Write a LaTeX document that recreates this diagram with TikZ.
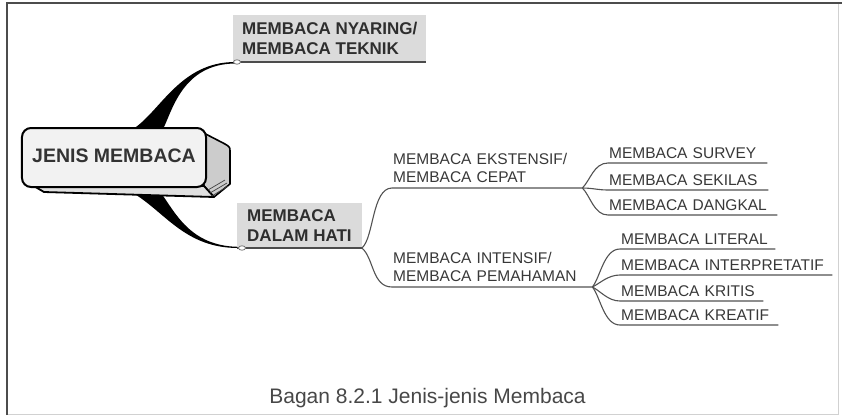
\documentclass[tikz,border=0pt]{standalone}
\usepackage{fontspec}
\setmainfont{Liberation Sans}
\begin{document}
\begin{tikzpicture}[x=1bp,y=-1bp,
  rootbox/.style={draw=black, line width=2bp, fill=black!5, rounded corners=9bp,
    minimum width=184bp, minimum height=59bp, inner sep=0pt,
    text height=14bp, text depth=5bp, text=black!80,
    font=\fontsize{19.5bp}{22bp}\selectfont\bfseries},
  topic/.style={anchor=south west, fill=black!14, align=left, text=black!82,
    inner xsep=9bp, inner ysep=7bp, text depth=0pt,
    font=\fontsize{17bp}{20.5bp}\selectfont\bfseries},
  sub/.style={anchor=south west, align=left, text=black!78,
    inner xsep=1bp, inner ysep=5.5bp,
    font=\fontsize{15.5bp}{18bp}\selectfont},
  leaf/.style={sub, inner ysep=4bp, text depth=0pt, text width=#1},
  stem/.style={draw=black!70, line width=1.5bp},
  link/.style={draw=black!68, line width=1.1bp},
  knob/.style={draw=black!55, fill=white, line width=0.8bp},
  caption/.style={anchor=base, text=black!72, font=\fontsize{21bp}{24bp}\selectfont}
]
\useasboundingbox (0,0) rectangle (842,415);

% frame
\draw[black!18, line width=1bp] (838.5,3) -- (838.5,414) -- (7,414);
\draw[black!70, line width=1.8bp] (7,415) -- (7,3) -- (842,3);

% tapered stems leaving the central box
\fill[black] (133,129) .. controls (160,112) and (180,62) .. (235,62)
  -- (235,63.5) .. controls (182,64) and (172,112) .. (163,129) -- cycle;
\fill[black] (133,193) .. controls (165,212) and (185,248) .. (238,248)
  -- (238,246.8) .. controls (190,246) and (175,212) .. (161,193) -- cycle;

% central box: side and under faces, then the front face
\filldraw[fill=black!20, draw=black, line width=1.6bp, line join=round]
  (196,129) -- (225,144) .. controls (230,147) .. (230,152) -- (230,184)
  -- (214,197) -- (204,186) -- cycle;
\filldraw[fill=black!12, draw=black, line width=1.8bp, line join=round]
  (27,182) -- (44,192) -- (214,197) -- (204,186) -- cycle;
\draw[black!75, line width=0.7bp]
  (208,190) -- (225,180) (210,193) -- (227,183) (212,196) -- (228,186);
\node[rootbox] (root) at (114,157.5) {JENIS MEMBACA};

% first level
\node[topic] (nyaring) at (233,62) {MEMBACA NYARING/\\MEMBACA TEKNIK};
\node[topic, inner xsep=10bp, inner ysep=6bp] (dalam) at (237,248) {MEMBACA\\DALAM HATI};
\draw[stem] ([xshift=2bp]nyaring.south west) -- (nyaring.south east);
\draw[stem] (dalam.south west) -- (dalam.south east);
\draw[knob] ([xshift=4bp]nyaring.south west) ellipse [x radius=3.5bp, y radius=2.2bp];
\draw[knob] ([xshift=5bp]dalam.south west) ellipse [x radius=3.5bp, y radius=2.2bp];

% second level
\node[sub, text width=188bp] (ekst) at (392,188) {MEMBACA EKSTENSIF/\\MEMBACA CEPAT};
\node[sub, text width=198bp] (inten) at (392,287) {MEMBACA INTENSIF/\\MEMBACA PEMAHAMAN};
\draw[link] (dalam.south east) .. controls +(12,-10) and +(-20,0) .. (ekst.south west) -- (ekst.south east);
\draw[link] (dalam.south east) .. controls +(12,10) and +(-20,0) .. (inten.south west) -- (inten.south east);

% third level
\node[leaf=157bp] (survey)  at (608,163) {MEMBACA SURVEY};
\node[leaf=158bp] (sekilas) at (608,190) {MEMBACA SEKILAS};
\node[leaf=167bp] (dangkal) at (608,215) {MEMBACA DANGKAL};
\node[leaf=153bp] (literal) at (620,249) {MEMBACA LITERAL};
\node[leaf=210bp] (interp)  at (620,275) {MEMBACA INTERPRETATIF};
\node[leaf=141bp] (kritis)  at (620,301) {MEMBACA KRITIS};
\node[leaf=156bp] (kreatif) at (620,325) {MEMBACA KREATIF};

\draw[link] (ekst.south east) .. controls +(8,-8) and +(-14,0) .. (survey.south west) -- (survey.south east);
\draw[link] (ekst.south east) .. controls +(10,0) and +(-10,0) .. (sekilas.south west) -- (sekilas.south east);
\draw[link] (ekst.south east) .. controls +(8,8) and +(-14,0) .. (dangkal.south west) -- (dangkal.south east);
\draw[link] (inten.south east) .. controls +(8,-10) and +(-16,0) .. (literal.south west) -- (literal.south east);
\draw[link] (inten.south east) .. controls +(8,-4) and +(-12,0) .. (interp.south west) -- (interp.south east);
\draw[link] (inten.south east) .. controls +(8,4) and +(-12,0) .. (kritis.south west) -- (kritis.south east);
\draw[link] (inten.south east) .. controls +(8,10) and +(-16,0) .. (kreatif.south west) -- (kreatif.south east);

% caption
\node[caption] (cap) at (427.5,403) {Bagan 8.2.1 Jenis-jenis Membaca};
\end{tikzpicture}
\end{document}
